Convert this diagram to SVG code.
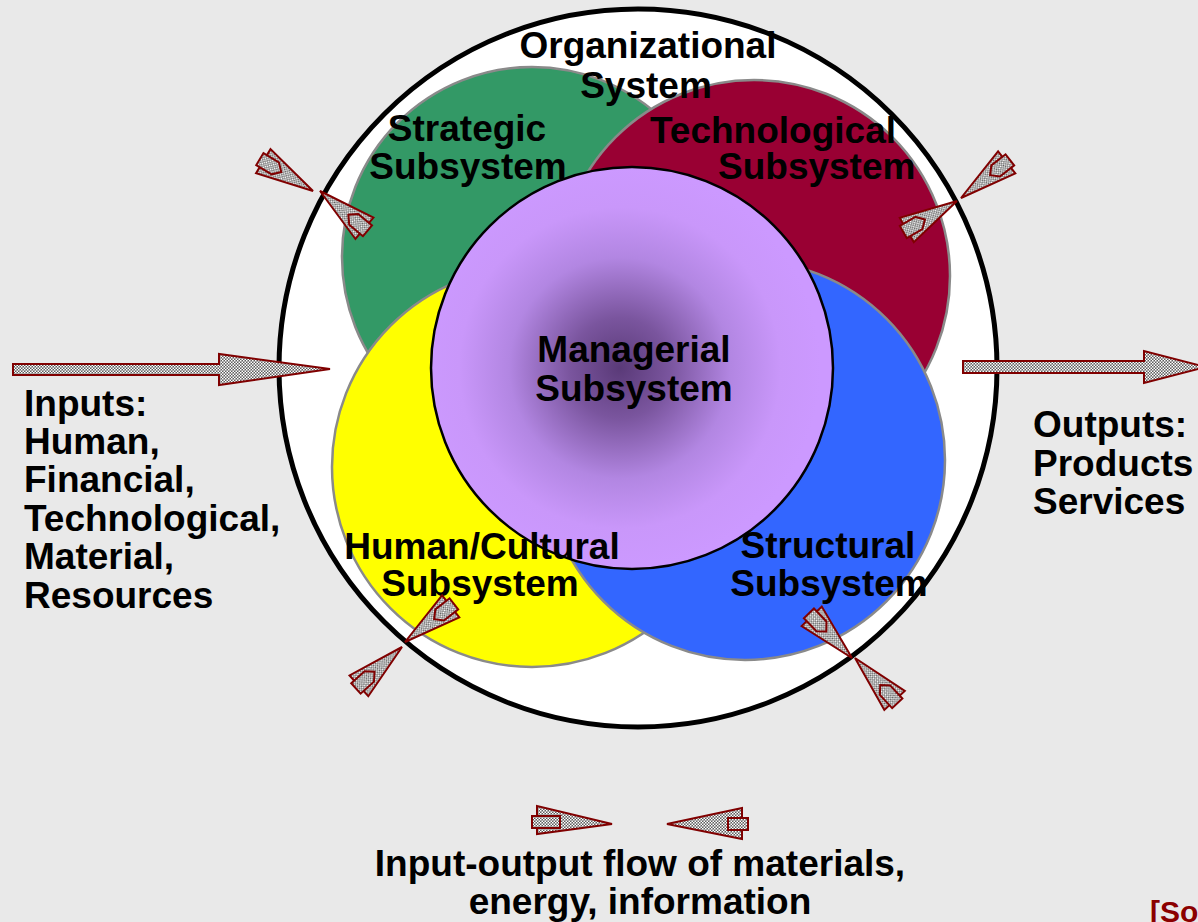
<svg xmlns="http://www.w3.org/2000/svg" xmlns:xlink="http://www.w3.org/1999/xlink" width="1198" height="922" viewBox="0 0 1198 922">
<style>
.t{font-family:"Liberation Sans",Arial,sans-serif;font-weight:bold;font-size:37px;fill:#000}
.m{text-anchor:middle}
.sub{stroke:#8a8a8a;stroke-width:2.5}
.arr{fill:url(#hatch);stroke:#800000;stroke-width:2;stroke-linejoin:miter}
</style>
<defs>
<pattern id="hatch" width="3" height="3" patternUnits="userSpaceOnUse">
<rect width="3" height="3" fill="#5e5e5e"/>
<rect width="1.5" height="1.5" fill="#ffffff"/>
<rect x="1.5" y="1.5" width="1.5" height="1.5" fill="#ffffff"/>
</pattern>
<radialGradient id="mg" cx="0.47" cy="0.5" r="0.5">
<stop offset="0" stop-color="#5a3a78"/>
<stop offset="0.25" stop-color="#7a559e"/>
<stop offset="0.55" stop-color="#b286e2"/>
<stop offset="0.8" stop-color="#c997fa"/>
<stop offset="1" stop-color="#cc99ff"/>
</radialGradient>
<g id="dart">
<path class="arr" d="M0,0 L-58,-14 L-58,14 Z"/>
<path class="arr" d="M-62,-7 L-44,-7 L-37,0 L-44,7 L-62,7 Z"/>
</g>
</defs>
<rect width="1198" height="922" fill="#e9e9e9"/>

<g id="organizational-system">
<circle cx="638" cy="368" r="359" fill="#ffffff" stroke="#000" stroke-width="5"/>
</g>
<g id="strategic-subsystem">
<circle cx="532" cy="257" r="190" fill="#339966" class="sub"/>
</g>
<g id="technological-subsystem">
<circle cx="754" cy="276" r="196" fill="#990033" class="sub"/>
</g>
<g id="human-cultural-subsystem">
<circle cx="532" cy="467" r="200" fill="#ffff00" class="sub"/>
</g>
<g id="structural-subsystem">
<circle cx="745" cy="460" r="200" fill="#3366ff" class="sub"/>
</g>
<g id="managerial-subsystem">
<circle cx="632" cy="368" r="201" fill="url(#mg)" stroke="#000" stroke-width="2.5"/>
<text class="t m" x="634" y="362">Managerial</text>
<text class="t m" x="634" y="401">Subsystem</text>
</g>
<g id="labels">
<text class="t m" x="648" y="58">Organizational</text>
<text class="t m" x="646" y="98">System</text>
<text class="t m" x="467" y="141">Strategic</text>
<text class="t m" x="468" y="179">Subsystem</text>
<text class="t" x="650" y="143">Technological</text>
<text class="t" x="718" y="179">Subsystem</text>
<text class="t m" x="482" y="559">Human/Cultural</text>
<text class="t m" x="480" y="596">Subsystem</text>
<text class="t m" x="828" y="558">Structural</text>
<text class="t m" x="829" y="596">Subsystem</text>
</g>

<g id="inputs">
<text class="t" x="24" y="416">Inputs:</text>
<text class="t" x="24" y="454">Human,</text>
<text class="t" x="24" y="492">Financial,</text>
<text class="t" x="24" y="531">Technological,</text>
<text class="t" x="24" y="569">Material,</text>
<text class="t" x="24" y="608">Resources</text>
</g>
<g id="outputs">
<text class="t" x="1033" y="437">Outputs:</text>
<text class="t" x="1033" y="476">Products</text>
<text class="t" x="1033" y="514">Services</text>
</g>
<g id="legend">
<text class="t m" x="640" y="876">Input-output flow of materials,</text>
<text class="t m" x="640" y="914">energy, information</text>
<text x="1150" y="922" style="font-family:'Liberation Sans',Arial,sans-serif;font-weight:bold;font-size:30px;fill:#8b0000">[So</text>
</g>

<g id="connectors">
<path class="arr" d="M13,364 L219,364 L219,354 L330,369 L219,385 L219,375 L13,375 Z"/>
<path class="arr" d="M963,361 L1144,361 L1144,351 L1206,367 L1144,383 L1144,373 L963,373 Z"/>
<use xlink:href="#dart" transform="translate(313,191) rotate(31)"/>
<use xlink:href="#dart" transform="translate(320,191) rotate(220)"/>
<use xlink:href="#dart" transform="translate(961,198) rotate(142)"/>
<use xlink:href="#dart" transform="translate(957,201) rotate(-30)"/>
<use xlink:href="#dart" transform="translate(405,642) rotate(142)"/>
<use xlink:href="#dart" transform="translate(402,647) rotate(-42)"/>
<use xlink:href="#dart" transform="translate(852,658) rotate(46)"/>
<use xlink:href="#dart" transform="translate(855,658) rotate(227)"/>
<path class="arr" d="M612,824 L537,806 L537,834 Z"/>
<path class="arr" d="M532,816 L560,816 L560,828 L532,828 Z"/>
<path class="arr" d="M667,824 L742,808 L742,839 Z"/>
<path class="arr" d="M728,818 L748,818 L748,830 L728,830 Z"/>
</g>
</svg>
